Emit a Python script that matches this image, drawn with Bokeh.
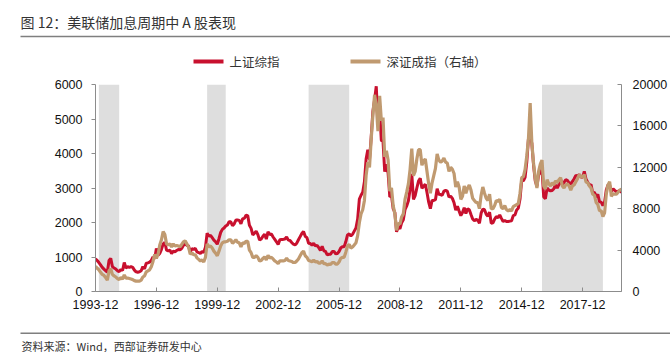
import numpy as np
from bokeh.plotting import figure
from bokeh.layouts import column
from bokeh.models import Range1d, LinearAxis, FixedTicker
from bokeh.core.properties import value
from bokeh.embed import file_html
from bokeh.resources import INLINE

# ---------------- data (monthly, starting 1993-12) ----------------
start_month = "1993-12"
sse = [950,
       900, 840, 770, 700, 650, 600, 560, 900, 960, 720, 680, 650,
       600, 580, 640, 610, 840, 680, 720, 700, 720, 700, 620, 570,
       560, 570, 600, 720, 660, 820, 830, 850, 900, 1000, 950, 1250,
       1050, 1100, 1220, 1380, 1420, 1200, 1180, 1200, 1100, 1170, 1150, 1190,
       1220, 1210, 1250, 1340, 1400, 1340, 1320, 1150, 1240, 1220, 1250, 1150,
       1130, 1100, 1160, 1130, 1280, 1690, 1600, 1630, 1560, 1490, 1440, 1370,
       1530, 1710, 1800, 1840, 1900, 1930, 2020, 2020, 1910, 1960, 2070, 2070,
       2060, 1960, 2110, 2120, 2210, 2200, 1920, 1830, 1640, 1690, 1750, 1650,
       1490, 1520, 1600, 1660, 1520, 1730, 1650, 1670, 1580, 1510, 1440, 1360,
       1500, 1510, 1510, 1520, 1580, 1490, 1480, 1420, 1370, 1350, 1400, 1500,
       1590, 1680, 1740, 1600, 1560, 1400, 1390, 1340, 1400, 1320, 1340, 1270,
       1190, 1310, 1180, 1160, 1060, 1080, 1080, 1160, 1160, 1090, 1100, 1160,
       1260, 1300, 1300, 1440, 1640, 1670, 1610, 1660, 1750, 1840, 2100, 2680,
       2790, 2880, 3180, 3840, 4110, 3820, 4470, 5220, 5550, 5950, 4870, 5260,
       4380, 4350, 3470, 3690, 3430, 2740, 2780, 2400, 2290, 1730, 1870, 1820,
       1990, 2080, 2370, 2480, 2630, 2960, 3410, 2670, 2780, 3000, 3200, 3280,
       2990, 3050, 3110, 2870, 2590, 2400, 2640, 2640, 2660, 2980, 2820, 2810,
       2790, 2910, 2930, 2910, 2740, 2760, 2700, 2570, 2360, 2470, 2330, 2200,
       2290, 2430, 2260, 2400, 2370, 2230, 2100, 2050, 2090, 2070, 1980, 2270,
       2390, 2370, 2240, 2180, 2300, 1980, 1990, 2100, 2170, 2140, 2220, 2120,
       2030, 2060, 2030, 2030, 2040, 2050, 2200, 2220, 2360, 2420, 2680, 3230,
       3210, 3310, 3750, 4440, 4610, 4280, 3660, 3210, 3050, 3380, 3450, 3540,
       2740, 2690, 3000, 2940, 2920, 2930, 2980, 3090, 3000, 3100, 3250, 3100,
       3160, 3240, 3220, 3150, 3120, 3190, 3270, 3360, 3350, 3390, 3320, 3310,
       3480, 3260, 3170, 3080, 3100, 2850, 2880, 2730, 2820, 2600, 2590, 2490,
       2590, 2940, 3090, 3080, 2900, 2980, 2930, 2890, 2910, 2930, 2870]

szse = [2450,
        2250, 2100, 1850, 1650, 1550, 1350, 1100, 2000, 2200, 1650, 1500, 1400,
        1250, 1150, 1350, 1200, 1600, 1300, 1300, 1250, 1200, 1150, 1050, 1000,
        1000, 1000, 1100, 1400, 1500, 1900, 2000, 2100, 2400, 2900, 3600, 3200,
        3600, 4500, 5000, 5800, 5500, 4600, 4500, 4600, 4300, 4600, 4400, 4450,
        4400, 4300, 4550, 4800, 4900, 4600, 4300, 3600, 3750, 3550, 3550, 3250,
        3100, 2950, 3050, 2850, 3300, 4600, 4300, 4400, 4200, 3900, 3700, 3450,
        3900, 4400, 4700, 4800, 4800, 4850, 5000, 5000, 4650, 4800, 5000, 4750,
        4700, 4300, 4700, 4650, 4850, 4850, 4000, 3750, 3300, 3300, 3450, 3300,
        2950, 3000, 3200, 3350, 3050, 3500, 3250, 3300, 3150, 2950, 2850, 2700,
        2950, 2950, 2950, 3000, 3200, 3000, 2950, 2900, 2800, 2800, 2950, 3150,
        3450, 3750, 3900, 3450, 3300, 3000, 2950, 2850, 3050, 2850, 2900, 2750,
        2750, 2950, 2700, 2700, 2550, 2650, 2600, 2800, 2800, 2650, 2650, 2850,
        3200, 3300, 3300, 3800, 4400, 4550, 4200, 4300, 4500, 4700, 5400, 6650,
        7500, 7900, 8800, 11200, 12500, 12000, 14700, 17000, 19000, 18000, 15500, 18900,
        16500, 16800, 13000, 13600, 12700, 9700, 10000, 8300, 7500, 5900, 6600, 6500,
        7200, 7500, 8900, 9600, 10400, 11800, 13800, 11200, 11600, 12800, 13700, 13700,
        12200, 12600, 12800, 11600, 10400, 9500, 10500, 11200, 11900, 13300, 12700, 12500,
        12600, 12900, 12500, 12400, 11600, 12000, 11800, 11400, 10100, 10600, 10100, 8900,
        9200, 10200, 9500, 10000, 10300, 9800, 9000, 8800, 8600, 8600, 8000, 9300,
        10100, 9500, 9000, 8800, 9400, 8000, 8000, 8300, 8800, 8700, 8900, 8120,
        8000, 8300, 7900, 7800, 7900, 7800, 8200, 8300, 8400, 8500, 9500, 11000,
        11100, 11800, 13100, 14800, 18200, 14300, 12400, 10900, 10000, 11600, 12300, 12700,
        10200, 9900, 10800, 10400, 10200, 10500, 10300, 10700, 10500, 10800, 11000, 10200,
        10000, 10300, 10400, 10200, 9800, 10200, 10300, 10600, 10900, 11300, 11100, 11040,
        11300, 10600, 10500, 10200, 10000, 9400, 9300, 8600, 8400, 7800, 7800, 7240,
        7600, 9400, 10300, 10600, 9200, 9450, 9400, 9400, 9600, 9800, 9900]

hike_start = ["1994-02", "1999-06", "2004-06", "2015-12"]
hike_end = ["1995-02", "2000-05", "2006-06", "2018-12"]

tick_months = ["1993-12", "1996-12", "1999-12", "2002-12", "2005-12",
               "2008-12", "2011-12", "2014-12", "2017-12"]
left_ticks = [0, 1000, 2000, 3000, 4000, 5000, 6000]
right_ticks = [0, 4000, 8000, 12000, 16000, 20000]

title_text = "图 12：美联储加息周期中 A 股表现"
source_text = "资料来源：Wind，西部证券研发中心"
series_names = ["上证综指", "深证成指（右轴）"]

# ---------------- helpers ----------------
def month_index(s):
    y0, m0 = map(int, start_month.split("-"))
    y, m = map(int, s.split("-"))
    return (y - y0) * 12 + (m - m0)

n = min(len(sse), len(szse))
sse = sse[:n]
szse = szse[:n]
idx = list(range(n))

RED = "#C8102E"
TAN = "#C09A70"
CJK = "Noto Sans CJK SC"
NUM = "Liberation Sans"
AX = "#8C8C8C"
RULE = "#7F7F7F"

W = 670
TOP_H = 74
BOT_H = 32
MAIN_H = 352 - TOP_H - BOT_H


def blank_fig(h):
    f = figure(width=W, height=h, x_range=Range1d(0, W), y_range=Range1d(h, 0),
               output_backend="svg", toolbar_location=None, title=None,
               min_border_left=0, min_border_right=0, min_border_top=0, min_border_bottom=0,
               x_axis_location=None, y_axis_location=None, frame_align=False)
    f.outline_line_color = None
    f.xgrid.visible = False
    f.ygrid.visible = False
    return f

# ---------------- header: title, rule, legend ----------------
top = blank_fig(TOP_H)
top.text(x=[20], y=[21], text=[title_text], text_font=value(CJK), text_font_size="14px",
         text_color="#333333", text_baseline="middle", text_align="left")
top.line(x=[20, 670], y=[36, 36], line_color=RULE, line_width=1.6)

# legend keys (drawn by hand in the header strip)
key_x0 = [193, 350]
key_len = 30
for name, col, x0 in zip(series_names, [RED, TAN], key_x0):
    top.line(x=[x0, x0 + key_len], y=[61, 61], line_color=col, line_width=4)
    top.text(x=[x0 + key_len + 6], y=[61], text=[name], text_font=value(CJK),
             text_font_size="12.5px", text_color="#333333", text_baseline="middle",
             text_align="left")

# ---------------- main chart ----------------
p = figure(width=W, height=MAIN_H, x_range=Range1d(0, n - 1), y_range=Range1d(0, 6000),
           output_backend="svg", toolbar_location=None, title=None,
           min_border_left=95, min_border_right=49, min_border_top=10,
           min_border_bottom=MAIN_H - 10 - 207, frame_align=False)
p.outline_line_color = None
p.xgrid.visible = False
p.ygrid.visible = False
p.extra_y_ranges = {"r": Range1d(0, 20000)}

p.quad(left=[month_index(s) for s in hike_start], right=[month_index(e) for e in hike_end],
       bottom=0, top=6000, fill_color="#DEDEDE", line_color=None)

p.line(idx, sse, line_color=RED, line_width=3)
p.line(idx, szse, line_color=TAN, line_width=3.2, y_range_name="r")

xa = p.xaxis[0]
xa.ticker = FixedTicker(ticks=[month_index(t) for t in tick_months])
xa.major_label_overrides = {month_index(t): t for t in tick_months}
xa.minor_tick_line_color = None
xa.major_tick_in = 4
xa.major_tick_out = 0
xa.major_label_standoff = 8
xa.axis_line_color = AX
xa.major_tick_line_color = AX
xa.major_label_text_font = NUM
xa.major_label_text_font_size = "12.5px"
xa.major_label_text_color = "#111111"

ya = p.yaxis[0]
ya.ticker = FixedTicker(ticks=left_ticks)
ya.minor_tick_line_color = None
ya.major_tick_in = 0
ya.major_tick_out = 4
ya.major_label_standoff = 9
ya.axis_line_color = AX
ya.major_tick_line_color = AX
ya.major_label_text_font = NUM
ya.major_label_text_font_size = "12.5px"
ya.major_label_text_color = "#111111"

ra = LinearAxis(y_range_name="r", ticker=FixedTicker(ticks=right_ticks))
ra.minor_tick_line_color = None
ra.major_tick_in = 4
ra.major_tick_out = 0
ra.major_label_standoff = 11
ra.axis_line_color = AX
ra.major_tick_line_color = AX
ra.major_label_text_font = NUM
ra.major_label_text_font_size = "12.5px"
ra.major_label_text_color = "#111111"
p.add_layout(ra, "right")

# ---------------- footer ----------------
bot = blank_fig(BOT_H)
bot.line(x=[20, 670], y=[12.7, 12.7], line_color=RULE, line_width=1.4)
bot.text(x=[21], y=[25], text=[source_text], text_font=value(CJK), text_font_size="11px",
         text_color="#333333", text_baseline="middle", text_align="left")

layout = column(top, p, bot, spacing=0)
open("out.html", "w").write(file_html(layout, INLINE))
